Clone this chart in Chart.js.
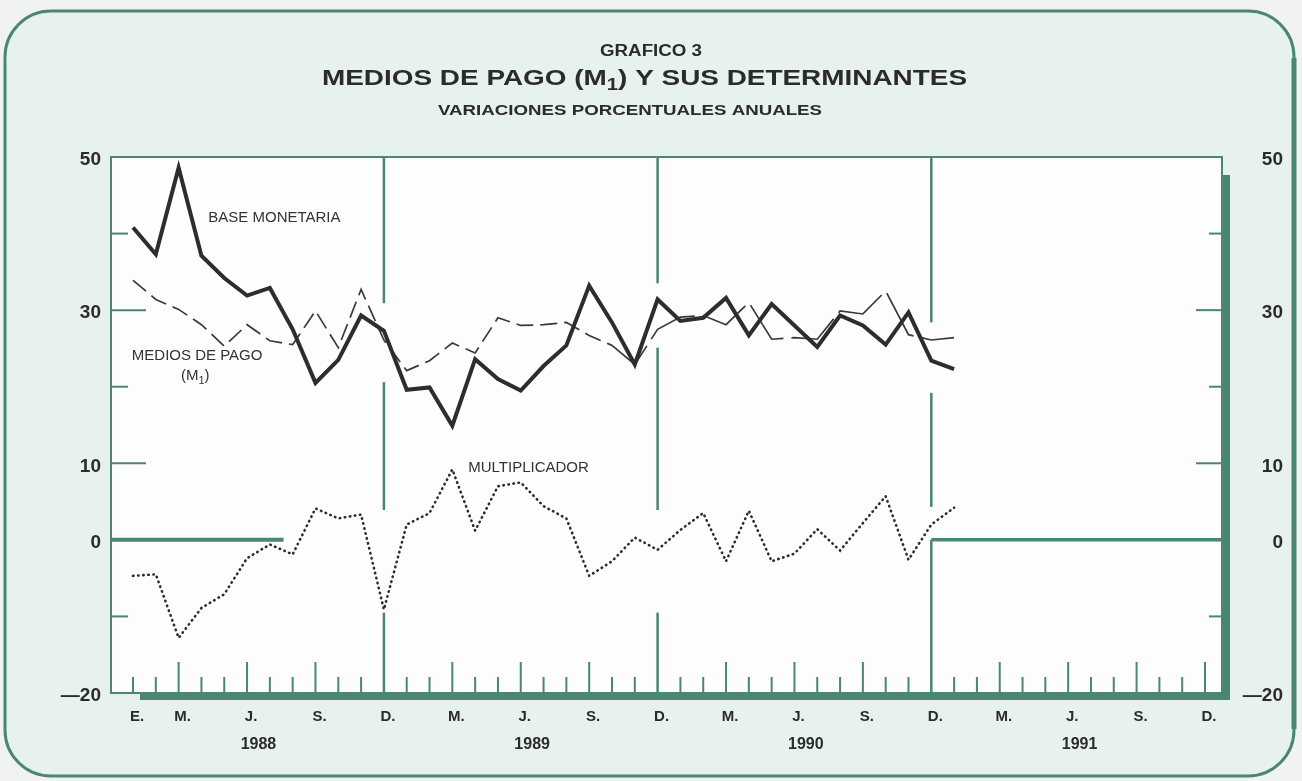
<!DOCTYPE html>
<html lang="es">
<head>
<meta charset="utf-8">
<title>Grafico 3 - Medios de pago (M1) y sus determinantes</title>
<script src="https://cdn.jsdelivr.net/npm/chart.js@4.4.1/dist/chart.umd.min.js"></script>
<style>
  html, body { margin: 0; padding: 0; background: #f1f3f1; }
  #wrap { width: 1302px; height: 781px; }
</style>
</head>
<body>
<div id="wrap"><canvas id="chart" width="1302" height="781"></canvas></div>
<script>
// axis runs Jan 1988 .. Dec 1991, series run Jan 1988 .. Jan 1991
const years = ['1988', '1989', '1990', '1991'];
const tickLabels = [
  'E.', '', 'M.', '', '', 'J.', '', '', 'S.', '', '', 'D.',
  '', '', 'M.', '', '', 'J.', '', '', 'S.', '', '', 'D.',
  '', '', 'M.', '', '', 'J.', '', '', 'S.', '', '', 'D.',
  '', '', 'M.', '', '', 'J.', '', '', 'S.', '', '', 'D.'
];
const yTickLabels = [50, 30, 10, 0, -20];

// variaciones porcentuales anuales
const baseMonetaria = [
  40.8, 37.3, 48.6, 37.1, 34.2, 31.9, 32.9, 27.5, 20.5, 23.5, 29.3, 27.3,
  19.6, 19.9, 14.9, 23.6, 21.0, 19.5, 22.7, 25.4, 33.2, 28.4, 22.9, 31.4,
  28.6, 29.0, 31.6, 26.7, 30.8, 28.0, 25.2, 29.3, 28.0, 25.5, 29.7, 23.4,
  22.3
];
const mediosDePago = [
  33.9, 31.4, 30.1, 28.1, 25.3, 28.1, 26.0, 25.5, 29.9, 25.1, 32.7, 26.1,
  22.1, 23.4, 25.7, 24.4, 29.0, 28.0, 28.1, 28.4, 26.7, 25.4, 22.9, 27.5,
  29.1, 29.3, 28.1, 31.0, 26.2, 26.4, 26.2, 29.9, 29.5, 32.5, 26.8, 26.1,
  26.4
];
const multiplicador = [
  -4.7, -4.5, -12.8, -8.9, -7.1, -2.4, -0.6, -1.9, 4.1, 2.8, 3.3, -9.1,
  2.0, 3.5, 9.2, 1.2, 7.0, 7.5, 4.4, 2.8, -4.7, -2.8, 0.3, -1.3,
  1.3, 3.5, -2.8, 3.8, -2.8, -1.8, 1.4, -1.4, 2.2, 5.7, -2.6, 2.0,
  4.2
];

const TEAL = '#4a8575';
const INK = '#2b2b2b';
const FONT = '"Liberation Sans", Arial, Helvetica, sans-serif';

// year dividers (month index) and the value ranges left open where the curves pass
const dividers = [
  { month: 11, gaps: [[20.6, 30.9], [-9.5, 3.9]] },
  { month: 23, gaps: [[25.1, 33.5], [-9.5, 3.9]] },
  { month: 35, gaps: [[19.2, 28.4], [0, 4.3]] }
];

const toPoints = arr => arr.map((v, i) => ({ x: i, y: v }));

// draws text made of pieces (for subscripts), stretched to a given width
function drawRich(ctx, parts, left, baseline, targetW) {
  let w = 0;
  parts.forEach(p => { ctx.font = p.font; p.w = ctx.measureText(p.t).width; w += p.w; });
  const sx = targetW ? targetW / w : 1;
  ctx.save();
  ctx.translate(left, baseline);
  ctx.scale(sx, 1);
  ctx.textAlign = 'left';
  ctx.textBaseline = 'alphabetic';
  let xx = 0;
  parts.forEach(p => { ctx.font = p.font; ctx.fillText(p.t, xx, p.dy || 0); xx += p.w; });
  ctx.restore();
}

function line(ctx, x1, y1, x2, y2) {
  ctx.beginPath(); ctx.moveTo(x1, y1); ctx.lineTo(x2, y2); ctx.stroke();
}

const paper = {
  id: 'paper',
  beforeDraw(chart) {
    const { ctx, chartArea: a, scales: { x, y } } = chart;
    ctx.save();

    // page and rounded card
    ctx.fillStyle = '#f1f3f1';
    ctx.fillRect(0, 0, chart.width, chart.height);
    ctx.beginPath();
    ctx.roundRect(5, 11, 1289, 765, 46);
    ctx.fillStyle = '#e7f1ed';
    ctx.fill();
    ctx.strokeStyle = TEAL;
    ctx.lineWidth = 3;
    ctx.stroke();
    ctx.lineWidth = 5;
    line(ctx, 1294, 58, 1294, 729);

    // titles
    ctx.fillStyle = INK;
    drawRich(ctx, [{ t: 'GRAFICO 3', font: 'bold 16px ' + FONT }], 600, 56, 102);
    drawRich(ctx, [
      { t: 'MEDIOS DE PAGO (M', font: 'bold 22px ' + FONT },
      { t: '1', font: 'bold 16px ' + FONT, dy: 5 },
      { t: ') Y SUS DETERMINANTES', font: 'bold 22px ' + FONT }
    ], 322, 85, 645);
    drawRich(ctx, [{ t: 'VARIACIONES PORCENTUALES ANUALES', font: 'bold 15px ' + FONT }], 438, 115, 384);

    // plot background
    ctx.fillStyle = '#fdfdfb';
    ctx.fillRect(a.left, a.top, a.width, a.height);

    // thin frame + heavy shadow on right and bottom
    ctx.strokeStyle = TEAL;
    ctx.lineWidth = 2;
    ctx.beginPath();
    ctx.moveTo(a.left + 29, a.bottom);
    ctx.lineTo(a.left, a.bottom);
    ctx.lineTo(a.left, a.top);
    ctx.lineTo(a.right, a.top);
    ctx.lineTo(a.right, a.top + 18);
    ctx.stroke();
    ctx.fillStyle = TEAL;
    ctx.fillRect(a.right - 1, a.top + 18, 9, a.height - 11);
    ctx.fillRect(a.left + 29, a.bottom - 1, a.width - 21, 8);

    // y ticks, both sides
    ctx.lineWidth = 2;
    [40, 30, 20, 10, -10].forEach(v => {
      const py = y.getPixelForValue(v);
      const long = v === 30 || v === 10;
      line(ctx, a.left, py, a.left + (long ? 35 : 17), py);
      line(ctx, a.right - (long ? 26 : 13), py, a.right, py);
    });

    // month ticks
    const divMonths = dividers.map(d => d.month);
    tickLabels.forEach((lab, i) => {
      if (divMonths.includes(i)) return;
      const px = x.getPixelForValue(i);
      const long = [2, 5, 8].includes(i % 12) || i === tickLabels.length - 1;
      line(ctx, px, a.bottom, px, a.bottom - (long ? 31 : 16));
    });

    // year dividers with openings where the curves cross
    ctx.lineWidth = 2.5;
    dividers.forEach(d => {
      const px = x.getPixelForValue(d.month);
      let top = a.top;
      d.gaps.slice().sort((g1, g2) => g2[1] - g1[1]).forEach(g => {
        line(ctx, px, top, px, y.getPixelForValue(g[1]));
        top = y.getPixelForValue(g[0]);
      });
      line(ctx, px, top, px, a.bottom);
    });

    // zero line pieces
    const y0 = y.getPixelForValue(0);
    ctx.lineWidth = 4;
    line(ctx, a.left, y0, x.getPixelForValue(6.6), y0);
    ctx.lineWidth = 3.5;
    line(ctx, x.getPixelForValue(35), y0, a.right, y0);

    // y labels
    ctx.fillStyle = INK;
    ctx.font = 'bold 19px ' + FONT;
    ctx.textAlign = 'right';
    ctx.textBaseline = 'middle';
    yTickLabels.forEach(v => {
      const py = y.getPixelForValue(v) + 3;
      const t = v < 0 ? '\u2014' + Math.abs(v) : String(v);
      ctx.fillText(t, a.left - 10, py);
      ctx.fillText(t, a.right + 61, py);
    });

    // month and year labels
    ctx.textAlign = 'center';
    ctx.font = 'bold 15px ' + FONT;
    tickLabels.forEach((lab, i) => {
      if (lab) ctx.fillText(lab, x.getPixelForValue(i) + 4, a.bottom + 24);
    });
    ctx.font = 'bold 16px ' + FONT;
    years.forEach((yr, k) => ctx.fillText(yr, x.getPixelForValue(12 * k + 5.5), a.bottom + 52));

    // series labels
    ctx.fillStyle = '#333';
    ctx.textAlign = 'left';
    ctx.font = '15px ' + FONT;
    ctx.fillText('BASE MONETARIA', x.getPixelForValue(3.3), y.getPixelForValue(42.0));
    ctx.fillText('MEDIOS DE PAGO', x.getPixelForValue(-0.05), y.getPixelForValue(24.0));
    drawRich(ctx, [
      { t: '(M', font: '15px ' + FONT },
      { t: '1', font: '11px ' + FONT, dy: 4 },
      { t: ')', font: '15px ' + FONT }
    ], x.getPixelForValue(2.1), y.getPixelForValue(21.5) + 5);
    ctx.textBaseline = 'middle';
    ctx.fillText('MULTIPLICADOR', x.getPixelForValue(14.7), y.getPixelForValue(9.4));

    ctx.restore();
  }
};

new Chart(document.getElementById('chart'), {
  type: 'line',
  data: {
    datasets: [
      {
        label: 'Base monetaria',
        data: toPoints(baseMonetaria),
        borderColor: '#2d2d2d',
        borderWidth: 4,
        borderJoinStyle: 'miter'
      },
      {
        label: 'Medios de pago (M1)',
        data: toPoints(mediosDePago),
        borderColor: '#3a3a3a',
        borderWidth: 1.7,
        segment: {
          borderDash: c => (c.p0DataIndex < 21 ? [17, 7] : [52, 8])
        }
      },
      {
        label: 'Multiplicador',
        data: toPoints(multiplicador),
        borderColor: '#2d2d2d',
        borderWidth: 2.6,
        borderDash: [0.5, 4.6],
        borderCapStyle: 'round'
      }
    ]
  },
  options: {
    responsive: false,
    animation: false,
    layout: { padding: { left: 111, right: 80, top: 157, bottom: 88 } },
    elements: {
      point: { radius: 0 },
      line: { tension: 0, fill: false }
    },
    plugins: {
      legend: { display: false },
      tooltip: { enabled: false },
      title: { display: false }
    },
    scales: {
      x: { type: 'linear', min: -0.965, max: 47.745, display: false },
      y: { min: -20, max: 50, display: false }
    }
  },
  plugins: [paper]
});
</script>
</body>
</html>
